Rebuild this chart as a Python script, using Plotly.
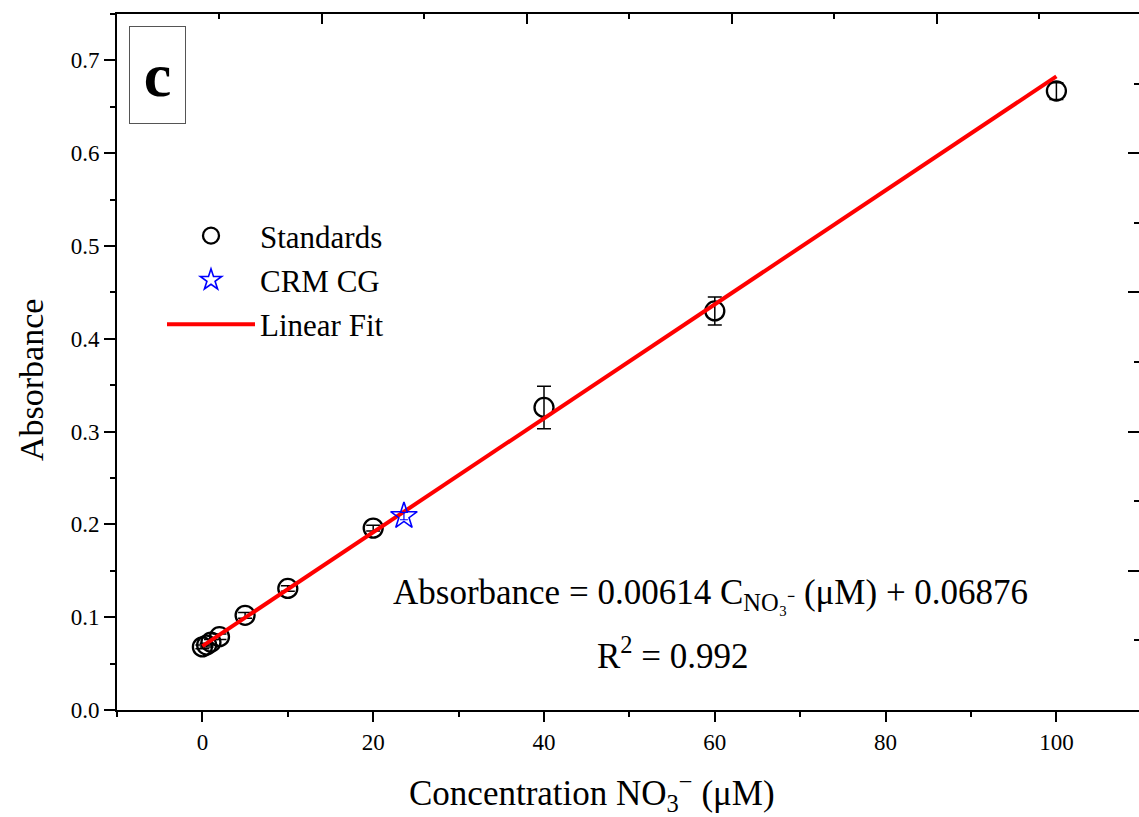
import plotly.graph_objects as go

# ---- data ----
std_conc = [0, 0.5, 1, 2, 5, 10, 20, 40, 60, 100]
std_abs = [0.068, 0.070, 0.073, 0.079, 0.102, 0.131, 0.196, 0.326, 0.430, 0.667]
std_err = [0.002, 0.002, 0.003, 0.003, 0.003, 0.003, 0.003, 0.023, 0.015, 0.009]

crm_conc = [23.6]
crm_abs = [0.209]
crm_err = [0.004]

fit_slope = 0.00614
fit_intercept = 0.06876
fit_conc = [0, 100]
fit_abs = [fit_slope * c + fit_intercept for c in fit_conc]

x_major = [0, 20, 40, 60, 80, 100]
top_major = [14, 38, 62, 86, 110]
top_minor = [2, 26, 50, 74, 98]
right_major = [0.15, 0.30, 0.45, 0.60]
right_minor = [0.075, 0.225, 0.375, 0.525, 0.675]

FONT = "Liberation Serif"
W, H = 1139, 817
L, R, T, B = 117, 0, 14, 107
PW, PH = W - L - R, H - T - B
px_per_unit = 8.54
x_range = [-10, -10 + PW / px_per_unit]
y_range = [0, 0.75]


def px(xp):
    return (xp - L) / PW


def py(yp):
    return (H - B - yp) / PH


fig = go.Figure()
fig.add_trace(go.Scatter(
    x=std_conc, y=std_abs, mode="markers", name="Standards", legendrank=1,
    legendgroup="a",
    marker=dict(symbol="circle-open", size=19, color="black", line=dict(width=2.3, color="black")),
    error_y=dict(type="data", array=std_err, color="black", thickness=1.5, width=7),
))
fig.add_trace(go.Scatter(
    x=fit_conc, y=fit_abs, mode="lines", name="Linear Fit", legendrank=3,
    legendgroup="c",
    line=dict(color="red", width=4),
))
fig.add_trace(go.Scatter(
    x=crm_conc, y=crm_abs, mode="markers", name="CRM CG", legendrank=2,
    legendgroup="b",
    marker=dict(symbol="star-open", size=20, color="blue", line=dict(width=1.6, color="blue")),
    error_y=dict(type="data", array=crm_err, color="blue", thickness=1.2, width=4),
))

axis_common = dict(showgrid=False, zeroline=False, linecolor="black", linewidth=2,
                   tickcolor="black", tickwidth=2,
                   tickfont=dict(family=FONT, size=23, color="black"))

fig.update_layout(
    width=W, height=H,
    margin=dict(l=L, r=R, t=T, b=B),
    paper_bgcolor="white", plot_bgcolor="white",
    font=dict(family=FONT, color="black"),
    xaxis=dict(
        range=x_range, tickmode="array", tickvals=x_major, ticks="outside", ticklen=10,
        showline=True,
        minor=dict(dtick=10, tick0=0, ticks="outside", ticklen=5, tickwidth=2, tickcolor="black"),
        **axis_common,
    ),
    yaxis=dict(
        range=y_range, dtick=0.1, tick0=0, tickformat=".1f", ticks="outside", ticklen=11,
        showline=True,
        minor=dict(dtick=0.05, tick0=0, ticks="outside", ticklen=5, tickwidth=2, tickcolor="black"),
        **axis_common,
    ),
    xaxis2=dict(
        overlaying="x", side="top", anchor="y", range=x_range,
        tickmode="array", tickvals=top_major, ticks="inside", ticklen=10,
        showticklabels=False, showline=True,
        minor=dict(tickmode="array", tickvals=top_minor, ticks="inside", ticklen=5,
                   tickwidth=2, tickcolor="black"),
        **axis_common,
    ),
    yaxis2=dict(
        overlaying="y", side="right", anchor="x", range=y_range,
        tickmode="array", tickvals=right_major, ticks="inside", ticklen=11,
        showticklabels=False, showline=False,
        minor=dict(tickmode="array", tickvals=right_minor, ticks="inside", ticklen=5,
                   tickwidth=2, tickcolor="black"),
        **axis_common,
    ),
    showlegend=True,
    legend=dict(
        x=px(162), y=py(209), xanchor="left", yanchor="top",
        bgcolor="rgba(0,0,0,0)", borderwidth=0,
        font=dict(family=FONT, size=31, color="black"),
        itemwidth=88, tracegroupgap=1,
    ),
    annotations=[
        dict(text="<b>c</b>", xref="paper", yref="paper",
             x=px(157.5), y=py(75),
             xanchor="center", yanchor="middle", showarrow=False,
             font=dict(family=FONT, size=62, color="black"),
             width=53, height=94, bordercolor="#555555", borderwidth=1, borderpad=1),
        dict(text="Absorbance = 0.00614 C<sub>NO₃⁻</sub> (μM) + 0.06876",
             xref="paper", yref="paper",
             x=px(710), y=py(594),
             xanchor="center", yanchor="middle", showarrow=False,
             font=dict(family=FONT, size=35, color="black")),
        dict(text="R<sup>2</sup> = 0.992",
             xref="paper", yref="paper",
             x=px(673), y=py(653),
             xanchor="center", yanchor="middle", showarrow=False,
             font=dict(family=FONT, size=35, color="black")),
        # axis titles
        dict(text="Concentration NO<sub>3</sub><sup>−</sup> (μM)",
             xref="paper", yref="paper",
             x=px(592), y=py(792),
             xanchor="center", yanchor="middle", showarrow=False,
             font=dict(family=FONT, size=35, color="black")),
        dict(text="Absorbance", textangle=-90,
             xref="paper", yref="paper",
             x=px(31), y=py(380),
             xanchor="center", yanchor="middle", showarrow=False,
             font=dict(family=FONT, size=34, color="black")),
    ],
)

# attach a hidden trace to the mirror axes so they are drawn
fig.add_trace(go.Scatter(x=[None], y=[None], xaxis="x2", yaxis="y2", showlegend=False,
                         hoverinfo="skip"))

fig.write_html("out.html")
